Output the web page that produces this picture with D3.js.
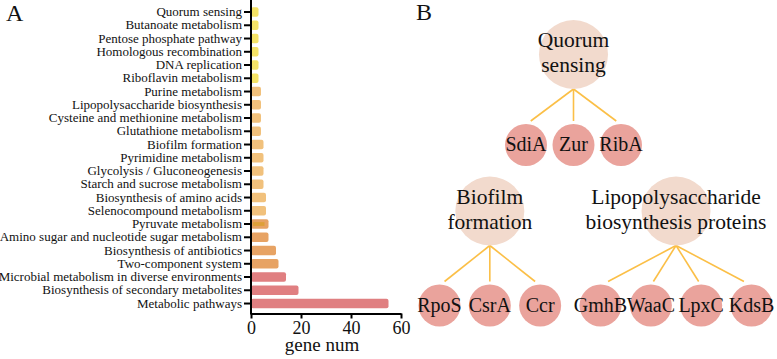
<!DOCTYPE html>
<html>
<head>
<meta charset="utf-8">
<script src="https://cdn.jsdelivr.net/npm/d3@7"></script>
<style>
  html, body { margin: 0; padding: 0; background: #fff; }
  svg { display: block; }
</style>
</head>
<body>
<div id="app"></div>
<script>
// panel A data, top to bottom
const categories = [
  'Quorum sensing', 'Butanoate metabolism', 'Pentose phosphate pathway',
  'Homologous recombination', 'DNA replication', 'Riboflavin metabolism',
  'Purine metabolism', 'Lipopolysaccharide biosynthesis',
  'Cysteine and methionine metabolism', 'Glutathione metabolism',
  'Biofilm formation', 'Pyrimidine metabolism', 'Glycolysis / Gluconeogenesis',
  'Starch and sucrose metabolism', 'Biosynthesis of amino acids',
  'Selenocompound metabolism', 'Pyruvate metabolism',
  'Amino sugar and nucleotide sugar metabolism', 'Biosynthesis of antibiotics',
  'Two-component system', 'Microbial metabolism in diverse environments',
  'Biosynthesis of secondary metabolites', 'Metabolic pathways'
];
const geneNum = [3, 3, 3, 3, 3, 3, 4, 4, 4, 4, 5, 5, 5, 5, 6, 6, 7, 7, 10, 11, 14, 19, 55];
const xTicks = [0, 20, 40, 60];

// panel B data
const pathways = ['Quorum sensing', 'Biofilm formation', 'Lipopolysaccharide biosynthesis proteins'];
const pathwayLines = [['Quorum', 'sensing'], ['Biofilm', 'formation'], ['Lipopolysaccharide', 'biosynthesis proteins']];
const proteins = [['SdiA', 'Zur', 'RibA'], ['RpoS', 'CsrA', 'Ccr'], ['GmhB', 'WaaC', 'LpxC', 'KdsB']];

const FONT = '"Liberation Serif", "Times New Roman", Tinos';
const W = 777, H = 359;
const svg = d3.select('#app').append('svg')
  .attr('width', W).attr('height', H)
  .attr('viewBox', [0, 0, W, H])
  .style('font-family', FONT);

// ---------- panel A ----------
const conf = { left: 251, right: 401, top: 5.4, bottom: 313.5 };

const x = d3.scaleLinear().domain([0, 60]).range([conf.left, conf.right]);
const y = d3.scaleBand().domain(categories)
  .range([conf.top, conf.top + 13.25 * categories.length])
  .paddingInner(0.28).paddingOuter(0.14);

const color = d3.scaleThreshold()
  .domain([4, 7, 12])
  .range(['#f4e266', '#f1c17c', '#e7a364', '#e07f81']);

const rows = categories.map((c, i) => ({ name: c, value: geneNum[i] }));

const A = svg.append('g');

A.append('g').selectAll('rect')
  .data(rows)
  .enter()
  .append('rect')
  .attr('x', x(0))
  .attr('y', d => y(d.name))
  .attr('width', d => x(d.value) - x(0))
  .attr('height', y.bandwidth())
  .attr('rx', 2)
  .attr('fill', d => color(d.value));

// pyruvate bar has a darker core in the original
A.append('rect')
  .attr('x', x(0) + 2)
  .attr('y', y('Pyruvate metabolism') + y.bandwidth() * 0.3)
  .attr('width', x(7) - x(0) - 6)
  .attr('height', y.bandwidth() * 0.4)
  .attr('fill', '#dc9f2e')
  .attr('opacity', 0.8);

const yAxis = A.append('g')
  .attr('transform', `translate(${conf.left},0)`)
  .call(d3.axisLeft(y).tickSize(7).tickSizeOuter(0).tickPadding(2))
yAxis.attr('font-family', null);
yAxis.select('.domain').remove();
yAxis.selectAll('line').attr('stroke', '#000').attr('stroke-width', 2);
yAxis.selectAll('text')
  .attr('font-size', 13)
  .style('font-family', FONT)
  .attr('fill', '#111');

const xAxis = A.append('g')
  .attr('transform', `translate(0,${conf.bottom})`)
  .call(d3.axisBottom(x).tickValues(xTicks).tickSize(5).tickSizeOuter(0).tickPadding(3))
xAxis.attr('font-family', null);
xAxis.select('.domain').attr('stroke', '#000').attr('stroke-width', 2);
xAxis.selectAll('line').attr('stroke', '#000').attr('stroke-width', 2);
xAxis.selectAll('text')
  .attr('font-size', 18)
  .style('font-family', FONT)
  .attr('fill', '#111');

// y spine
A.append('line')
  .attr('x1', conf.left).attr('x2', conf.left)
  .attr('y1', 0).attr('y2', conf.bottom + 1)
  .attr('stroke', '#000').attr('stroke-width', 2);

A.append('text')
  .attr('x', (conf.left + conf.right) / 2 - 4)
  .attr('y', 351)
  .attr('text-anchor', 'middle')
  .attr('font-size', 19)
  .attr('fill', '#111')
  .text('gene num');

svg.append('text')
  .attr('x', 6).attr('y', 21)
  .attr('font-size', 24)
  .attr('fill', '#111')
  .text('A');

// ---------- panel B ----------
svg.append('text')
  .attr('x', 416).attr('y', 20)
  .attr('font-size', 24)
  .attr('fill', '#111')
  .text('B');

const bigR = 34.5, smallR = 21;
const level = { top: 54.5, topKids: 145, mid: 211, midKids: 305.5 };

const topRow = d3.scalePoint().domain(proteins[0]).range([526, 621]);
// bottom row: one slot per protein, with a small gap between the two groups
const groupGap = 0.2;
const bottomRow = d3.scaleLinear()
  .domain([0, proteins[1].length + proteins[2].length - 1 + groupGap])
  .range([439.5, 751.5]);

const groups = pathways.map((p, i) => {
  const offset = i === 2 ? proteins[1].length + groupGap : 0;
  const kids = proteins[i].map((n, j) => ({
    name: n,
    x: i === 0 ? topRow(n) : bottomRow(offset + j),
    y: i === 0 ? level.topKids : level.midKids
  }));
  return {
    name: p,
    lines: pathwayLines[i],
    x: d3.mean(kids, k => k.x),
    y: i === 0 ? level.top : level.mid,
    kids
  };
});

const B = svg.append('g');

// links
groups.forEach(g => {
  B.append('g').selectAll('line')
    .data(g.kids)
    .enter()
    .append('line')
    .attr('x1', g.x)
    .attr('y1', g.y + bigR)
    .attr('x2', k => k.x + (g.x - k.x) * 0.1)
    .attr('y2', k => k.y - smallR - 3)
    .attr('stroke', '#fbbf47')
    .attr('stroke-width', 1.6);
});

// parent nodes
const parents = B.append('g').selectAll('g')
  .data(groups)
  .enter()
  .append('g')
  .attr('transform', d => `translate(${d.x},${d.y})`);

parents.append('circle')
  .attr('r', bigR)
  .attr('fill', '#f2dacd');

parents.each(function (d) {
  const t = d3.select(this).append('text')
    .attr('text-anchor', 'middle')
    .attr('font-size', 21.5)
    .attr('fill', '#111');
  d.lines.forEach((l, i) => {
    t.append('tspan').attr('x', 0).attr('y', -7.5 + i * 25).text(l);
  });
});

// child nodes
const kidsAll = groups.flatMap(g => g.kids);
const kidNodes = B.append('g').selectAll('g')
  .data(kidsAll)
  .enter()
  .append('g')
  .attr('transform', d => `translate(${d.x},${d.y})`);

kidNodes.append('circle')
  .attr('r', smallR)
  .attr('fill', '#eaa39c');

kidNodes.append('text')
  .attr('text-anchor', 'middle')
  .attr('y', 6)
  .attr('font-size', 20)
  .attr('fill', '#111')
  .text(d => d.name);
</script>
</body>
</html>
